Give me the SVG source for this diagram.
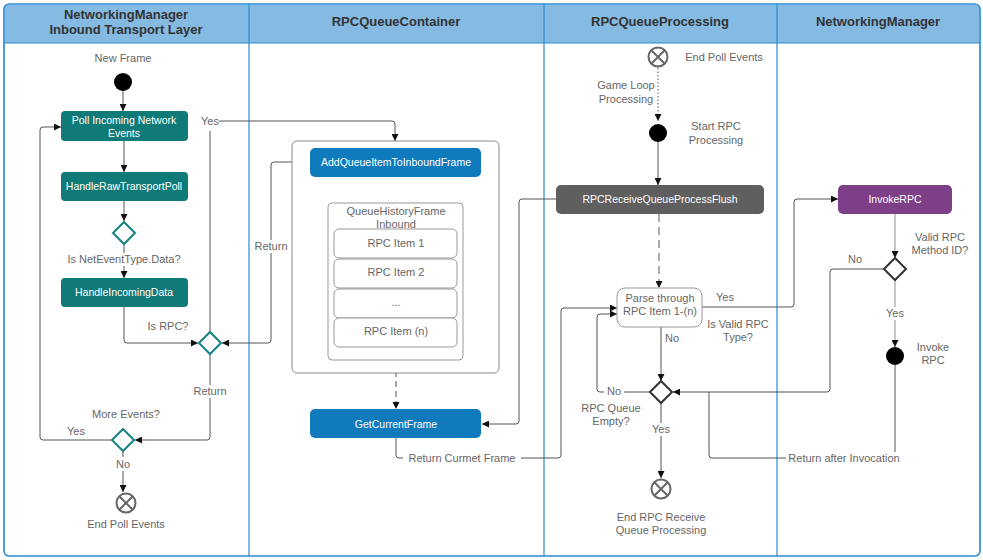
<svg xmlns="http://www.w3.org/2000/svg" width="983" height="560" viewBox="0 0 983 560">
<defs>
<marker id="ah" viewBox="0 0 10 10" refX="10" refY="5" markerWidth="7" markerHeight="7" orient="auto" markerUnits="userSpaceOnUse">
<path d="M0,0 L10,5 L0,10 z" fill="#111"/>
</marker>
<style>
.lbl{font-family:"Liberation Sans",Arial,sans-serif;font-size:11px;fill:#666;text-anchor:middle}
.hdr{font-family:"Liberation Sans",Arial,sans-serif;font-size:13px;font-weight:bold;fill:#333;text-anchor:middle}
.wt{font-family:"Liberation Sans",Arial,sans-serif;font-size:10.5px;fill:#fff;text-anchor:middle}
.ln{fill:none;stroke:#555;stroke-width:1}
.la{fill:none;stroke:#555;stroke-width:1;marker-end:url(#ah)}
.lg{fill:none;stroke:#aaa;stroke-width:1.3}
.teal{fill:#0f7a78}
.blue{fill:#0f7bbd}
.item{fill:#fff;stroke:#999;stroke-width:1}
.dteal{fill:#fff;stroke:#148282;stroke-width:2}
.ddark{fill:#fff;stroke:#333;stroke-width:2}
.endc{fill:#fff;stroke:#666;stroke-width:2}
.lane{stroke:#2a8ad0;stroke-width:1.2}
</style>
</defs>
<rect x="0" y="0" width="983" height="560" fill="#fff"/>
<g id="pool">
<rect x="4" y="4" width="976" height="552" rx="5" fill="#fff" stroke="#2a8ad0" stroke-width="1.2"/>
<path d="M4,43 V9 a5,5 0 0 1 5,-5 H975 a5,5 0 0 1 5,5 V43 z" fill="#85bbe3"/>
<line class="lane" x1="4" y1="43" x2="980" y2="43"/>
<line class="lane" x1="249" y1="4" x2="249" y2="556"/>
<line class="lane" x1="544" y1="4" x2="544" y2="556"/>
<line class="lane" x1="777" y1="4" x2="777" y2="556"/>
<rect x="4" y="4" width="976" height="552" rx="5" fill="none" stroke="#2a8ad0" stroke-width="1.2"/>
<text class="hdr" x="126" y="19">NetworkingManager</text>
<text class="hdr" x="126" y="34">Inbound Transport Layer</text>
<text class="hdr" x="396" y="26">RPCQueueContainer</text>
<text class="hdr" x="660" y="26">RPCQueueProcessing</text>
<text class="hdr" x="878" y="26">NetworkingManager</text>
</g>
<g id="connectors">
<path class="la" d="M123,91 V111"/>
<path class="la" d="M124,141 V172"/>
<path class="la" d="M124,201 V221"/>
<path class="la" d="M124,245 V278"/>
<path class="la" d="M124,307 V340 a3,3 0 0 0 3,3 H198"/>
<path class="la" d="M310,162 H274 a3,3 0 0 0 -3,3 V340 a3,3 0 0 1 -3,3 H222"/>
<path class="ln" d="M210,332 V131"/>
<path class="la" d="M219,121 H392 a3,3 0 0 1 3,3 V141"/>
<path class="la" d="M210,354 V437 a3,3 0 0 1 -3,3 H135"/>
<path class="la" d="M112,440 H43 a3,3 0 0 1 -3,-3 V130 a3,3 0 0 1 3,-3 H61"/>
<path class="la" d="M123,451 V492"/>
<path class="la" d="M396,177 V203"/>
<path class="la" d="M396,361 V409" stroke="#999" stroke-dasharray="6,4"/>
<path class="la" d="M556,199 H522 a3,3 0 0 0 -3,3 V421 a3,3 0 0 1 -3,3 H482"/>
<path class="ln" d="M396,438 V455 a3,3 0 0 0 3,3 H558 a3,3 0 0 0 3,-3 V311 a3,3 0 0 1 3,-3"/>
<path class="la" d="M563,308 H617"/>
<path class="la" d="M658,68 V121" stroke-dasharray="1.5,2"/>
<path class="la" d="M658,142 V185"/>
<path class="la" d="M659,214 V288" stroke="#777" stroke-dasharray="8,5"/>
<path class="la" d="M661,327 V381"/>
<path class="la" d="M650,392 H600 a3,3 0 0 1 -3,-3 V317 a3,3 0 0 1 3,-3 H617"/>
<path class="la" d="M702,307 H791 a3,3 0 0 0 3,-3 V202 a3,3 0 0 1 3,-3 H838"/>
<path class="la" d="M884,269 H833 a3,3 0 0 0 -3,3 V389 a3,3 0 0 1 -3,3 H673"/>
<path class="ln" d="M895,365 V458 H712 a3,3 0 0 1 -3,-3 V392"/>
<path class="la" d="M661,403 V478"/>
<path class="la lg" d="M895,214 V258" stroke="#aaa"/>
<path class="la lg" d="M895,280 V347" stroke="#aaa"/>
</g>
<g id="labels">
<text class="lbl" x="123" y="62">New Frame</text>
<rect x="64" y="253" width="120" height="13" fill="#fff"/>
<text class="lbl" x="124" y="263">Is NetEventType.Data?</text>
<text class="lbl" x="168" y="330">Is RPC?</text>
<rect x="190" y="115" width="28" height="13" fill="#fff"/>
<text class="lbl" x="210" y="125">Yes</text>
<rect x="253" y="240" width="36" height="13" fill="#fff"/>
<text class="lbl" x="271" y="250">Return</text>
<rect x="192" y="385" width="36" height="13" fill="#fff"/>
<text class="lbl" x="210" y="395">Return</text>
<text class="lbl" x="126" y="418">More Events?</text>
<text class="lbl" x="76" y="435">Yes</text>
<rect x="112" y="457" width="22" height="14" fill="#fff"/>
<text class="lbl" x="123" y="468">No</text>
<text class="lbl" x="126" y="528">End Poll Events</text>
<rect x="403" y="452" width="118" height="13" fill="#fff"/>
<text class="lbl" x="462" y="462">Return Curmet Frame</text>
<text class="lbl" x="724" y="61">End Poll Events</text>
<rect x="596" y="80" width="60" height="26" fill="#fff"/>
<text class="lbl" x="626" y="89">Game Loop</text>
<text class="lbl" x="626" y="103">Processing</text>
<text class="lbl" x="716" y="130">Start RPC</text>
<text class="lbl" x="716" y="144">Processing</text>
<text class="lbl" x="725" y="301">Yes</text>
<text class="lbl" x="738" y="328">Is Valid RPC</text>
<text class="lbl" x="738" y="341">Type?</text>
<text class="lbl" x="672" y="342">No</text>
<rect x="604" y="385" width="20" height="13" fill="#fff"/>
<text class="lbl" x="614" y="395">No</text>
<text class="lbl" x="611" y="412">RPC Queue</text>
<text class="lbl" x="611" y="425">Empty?</text>
<rect x="649" y="423" width="24" height="13" fill="#fff"/>
<text class="lbl" x="661" y="433">Yes</text>
<text class="lbl" x="661" y="521">End RPC Receive</text>
<text class="lbl" x="661" y="534">Queue Processing</text>
<text class="lbl" x="940" y="241">Valid RPC</text>
<text class="lbl" x="940" y="254">Method ID?</text>
<text class="lbl" x="855" y="263">No</text>
<rect x="883" y="307" width="24" height="13" fill="#fff"/>
<text class="lbl" x="895" y="317">Yes</text>
<text class="lbl" x="933" y="351">Invoke</text>
<text class="lbl" x="933" y="364">RPC</text>
<rect x="786" y="452" width="116" height="13" fill="#fff"/>
<text class="lbl" x="844" y="462">Return after Invocation</text>
</g>
<g id="start">
<circle cx="123" cy="82" r="9" fill="#000"/>
</g>
<g id="poll">
<rect class="teal" x="61" y="111" width="127" height="30" rx="4"/>
<text class="wt" x="124" y="124">Poll Incoming Network</text>
<text class="wt" x="124" y="137">Events</text>
</g>
<g id="rawpoll">
<rect class="teal" x="61" y="172" width="127" height="29" rx="4"/>
<text class="wt" x="124" y="190">HandleRawTransportPoll</text>
</g>
<g id="isdata">
<path class="dteal" d="M124,222 L135,233 L124,244 L113,233 z"/>
</g>
<g id="incoming">
<rect class="teal" x="61" y="278" width="127" height="29" rx="4"/>
<text class="wt" x="124" y="296">HandleIncomingData</text>
</g>
<g id="isrpc">
<path class="dteal" d="M210,332 L221,343 L210,354 L199,343 z"/>
</g>
<g id="moreevents">
<path class="dteal" d="M123,429 L134,440 L123,451 L112,440 z"/>
</g>
<g id="endpoll">
<circle class="endc" cx="126" cy="503" r="9.5"/>
<path d="M119.3,496.3 L132.7,509.7 M132.7,496.3 L119.3,509.7" stroke="#666" stroke-width="2"/>
</g>
<g id="container">
<rect x="292" y="141" width="207" height="232" rx="5" fill="#fff" stroke="#888" stroke-width="1"/>
</g>
<g id="addqueue">
<rect class="blue" x="310" y="148" width="171" height="29" rx="5"/>
<text class="wt" x="396" y="166">AddQueueItemToInboundFrame</text>
</g>
<g id="history">
<rect x="328" y="203" width="135" height="157" rx="4" fill="#fff" stroke="#999" stroke-width="1"/>
<text class="lbl" x="396" y="215">QueueHistoryFrame</text>
<text class="lbl" x="396" y="228">Inbound</text>
</g>
<g id="item1">
<rect class="item" x="334" y="229" width="123" height="29" rx="5"/>
<text class="lbl" x="396" y="247">RPC Item 1</text>
</g>
<g id="item2">
<rect class="item" x="334" y="259" width="123" height="29" rx="5"/>
<text class="lbl" x="396" y="276">RPC Item 2</text>
</g>
<g id="itemdots">
<rect class="item" x="334" y="289" width="123" height="29" rx="5"/>
<text class="lbl" x="396" y="306">...</text>
</g>
<g id="itemn">
<rect class="item" x="334" y="318" width="123" height="29" rx="5"/>
<text class="lbl" x="396" y="335">RPC Item (n)</text>
</g>
<g id="getframe">
<rect class="blue" x="310" y="409" width="171" height="29" rx="5"/>
<text class="wt" x="396" y="428">GetCurrentFrame</text>
</g>
<g id="endpoll2">
<circle class="endc" cx="658" cy="57" r="9.5"/>
<path d="M651.3,50.3 L664.7,63.7 M664.7,50.3 L651.3,63.7" stroke="#666" stroke-width="2"/>
</g>
<g id="startrpc">
<circle cx="658" cy="133" r="9" fill="#000"/>
</g>
<g id="flush">
<rect x="556" y="185" width="208" height="29" rx="5" fill="#5f5f5f"/>
<text class="wt" x="660" y="203">RPCReceiveQueueProcessFlush</text>
</g>
<g id="parse">
<rect x="617" y="288" width="85" height="39" rx="8" fill="#fff" stroke="#999" stroke-width="1"/>
<text class="lbl" x="660" y="302">Parse through</text>
<text class="lbl" x="660" y="315">RPC Item 1-(n)</text>
</g>
<g id="queueempty">
<path class="ddark" d="M661,381 L672,392 L661,403 L650,392 z"/>
</g>
<g id="endrpc">
<circle class="endc" cx="661" cy="489" r="9.5"/>
<path d="M654.3,482.3 L667.7,495.7 M667.7,482.3 L654.3,495.7" stroke="#666" stroke-width="2"/>
</g>
<g id="invokerpc">
<rect x="838" y="185" width="114" height="29" rx="5" fill="#7e3f89"/>
<text class="wt" x="895" y="203">InvokeRPC</text>
</g>
<g id="validmethod">
<path class="ddark" d="M895,258 L906,269 L895,280 L884,269 z"/>
</g>
<g id="invoke">
<circle cx="895" cy="356" r="9" fill="#000"/>
</g>
</svg>
